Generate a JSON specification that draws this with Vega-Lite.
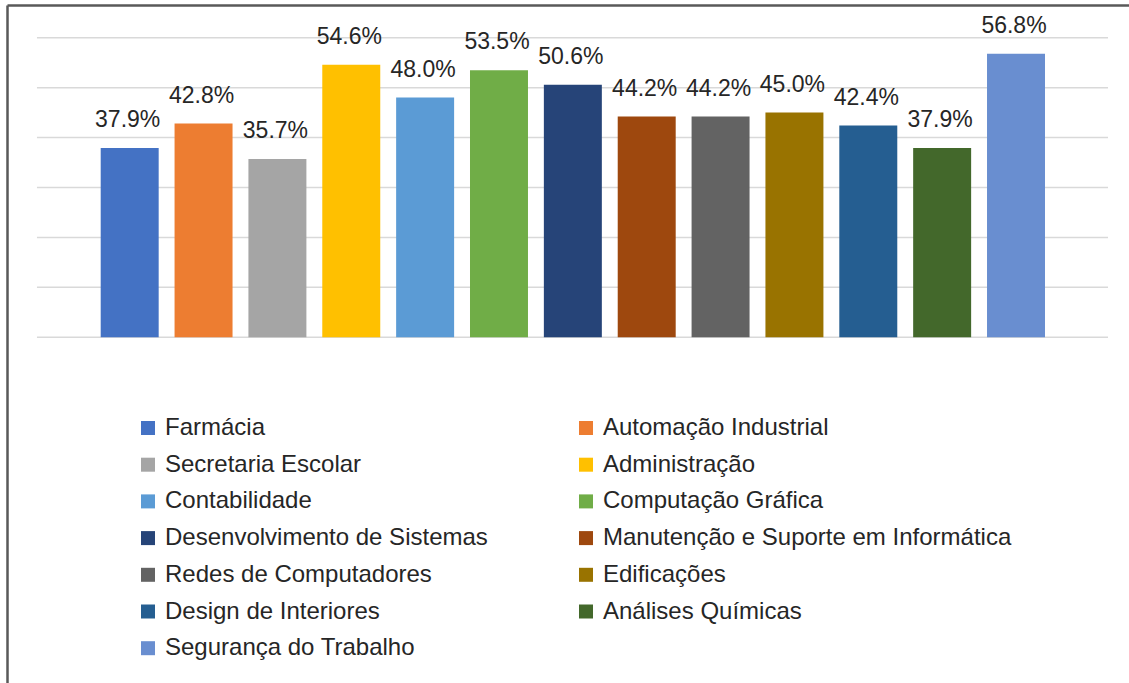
{
  "$schema": "https://vega.github.io/schema/vega-lite/v6.json",
  "width": 1122,
  "height": 678,
  "autosize": {"type": "none"},
  "padding": {"left": 7, "top": 5, "right": 0, "bottom": 0},
  "background": "white",
  "config": {
    "font": "Liberation Sans",
    "view": {"stroke": null},
    "axisY": {"domain": true, "domainColor": "#595959", "domainWidth": 2.5, "ticks": false, "labels": false, "grid": false, "title": null}
  },
  "datasets": {
    "courses": [
      {"curso": "Farmácia", "valor": 0.379},
      {"curso": "Automação Industrial", "valor": 0.428},
      {"curso": "Secretaria Escolar", "valor": 0.357},
      {"curso": "Administração", "valor": 0.546},
      {"curso": "Contabilidade", "valor": 0.480},
      {"curso": "Computação Gráfica", "valor": 0.535},
      {"curso": "Desenvolvimento de Sistemas", "valor": 0.506},
      {"curso": "Manutenção e Suporte em Informática", "valor": 0.442},
      {"curso": "Redes de Computadores", "valor": 0.442},
      {"curso": "Edificações", "valor": 0.450},
      {"curso": "Design de Interiores", "valor": 0.424},
      {"curso": "Análises Químicas", "valor": 0.379},
      {"curso": "Segurança do Trabalho", "valor": 0.568}
    ],
    "grid": [{"g": 0}, {"g": 0.1}, {"g": 0.2}, {"g": 0.3}, {"g": 0.4}, {"g": 0.5}, {"g": 0.6}]
  },
  "resolve": {"scale": {"x": "independent"}},
  "layer": [
    {
      "data": {"name": "grid"},
      "mark": {"type": "rule", "color": "#d9d9d9", "strokeWidth": 1.5},
      "encoding": {
        "x": {"datum": 2.67, "type": "quantitative", "scale": {"domain": [0, 100], "nice": false, "zero": false},
              "axis": {"orient": "top", "domain": true, "domainColor": "#595959", "domainWidth": 2.5, "ticks": false, "labels": false, "grid": false, "title": null}},
        "x2": {"datum": 98.13},
        "y": {"field": "g", "type": "quantitative", "scale": {"domain": [-0.6924, 0.6655], "nice": false, "zero": false}, "title": null}
      }
    },
    {
      "layer": [
        {
          "data": {"name": "courses"},
          "mark": {"type": "bar"},
          "encoding": {
            "x": {"field": "curso", "type": "nominal", "sort": null, "scale": {"range": [93.7, 1038], "paddingInner": 0.215, "paddingOuter": 0}, "axis": null},
            "y": {"field": "valor", "type": "quantitative", "title": null},
            "y2": {"datum": 0},
            "color": {
              "field": "curso", "type": "nominal",
              "scale": {
                "domain": ["Farmácia", "Secretaria Escolar", "Contabilidade", "Desenvolvimento de Sistemas", "Redes de Computadores", "Design de Interiores", "Segurança do Trabalho", "Automação Industrial", "Administração", "Computação Gráfica", "Manutenção e Suporte em Informática", "Edificações", "Análises Químicas"],
                "range": ["#4472C4", "#A5A5A5", "#5B9BD5", "#264478", "#636363", "#255E91", "#698ED0", "#ED7D31", "#FFC000", "#70AD47", "#9E480E", "#997300", "#43682B"]
              },
              "legend": {
                "orient": "none", "legendX": 129, "legendY": 411, "columns": 2, "columnPadding": 86, "rowPadding": 12.7,
                "symbolType": "square", "symbolSize": 196, "symbolStrokeWidth": 0, "symbolOpacity": 1,
                "labelFontSize": 24, "labelColor": "#262626", "labelOffset": 5, "labelLimit": 700,
                "title": null, "padding": 0, "offset": 0
              }
            }
          }
        },
        {
          "data": {"name": "courses"},
          "mark": {"type": "text", "baseline": "alphabetic", "dy": -21, "dx": -2, "fontSize": 23, "color": "#262626"},
          "encoding": {
            "x": {"field": "curso", "type": "nominal", "sort": null, "scale": {"range": [93.7, 1038], "paddingInner": 0.215, "paddingOuter": 0}, "axis": null},
            "y": {"field": "valor", "type": "quantitative", "title": null},
            "text": {"field": "valor", "type": "quantitative", "format": ".1%"}
          }
        }
      ]
    }
  ]
}
